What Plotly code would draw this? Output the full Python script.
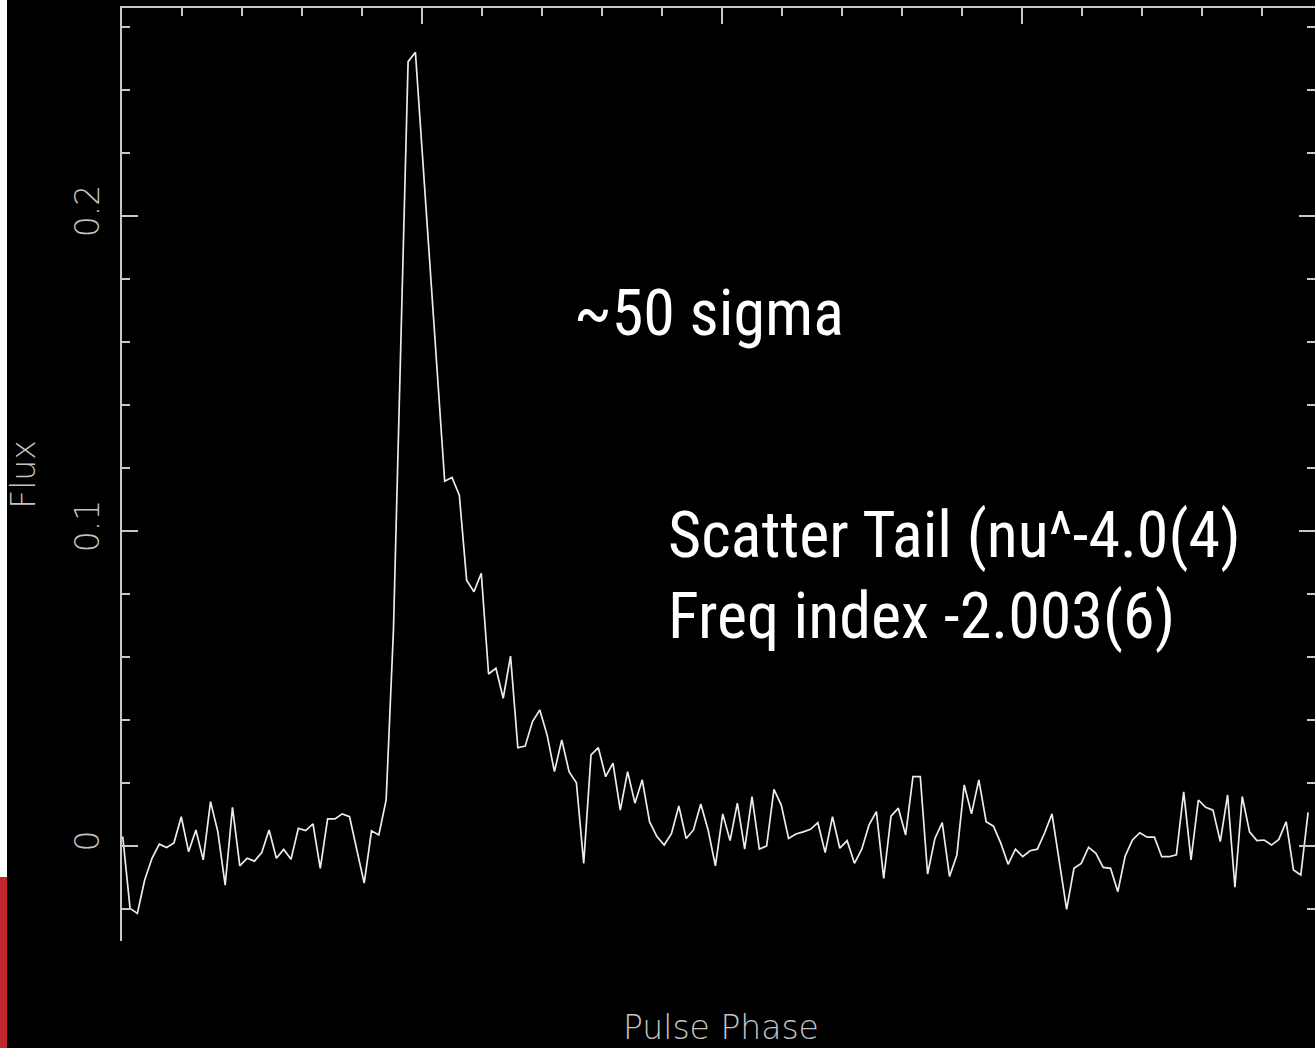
import numpy as np
import plotly.graph_objects as go

# Pulse profile: flux per phase bin (164 bins per rotation, 163 visible)
flux = [
    0.003, -0.0198, -0.0214, -0.0108, -0.0039, 0.0006, -0.0005, 0.001, 0.0093, -0.0018,
    0.0051, -0.0044, 0.0141, 0.0045, -0.0124, 0.0123, -0.0063, -0.0039, -0.0048, -0.0021,
    0.0051, -0.0039, -0.0011, -0.0042, 0.0056, 0.0049, 0.007, -0.0071, 0.0086, 0.0086,
    0.0102, 0.0093, -0.0013, -0.0118, 0.0048, 0.0035, 0.0146, 0.0686, 0.159, 0.249,
    0.252, 0.2186, 0.185, 0.151, 0.1158, 0.117, 0.1114, 0.0844, 0.0807, 0.0866,
    0.0546, 0.0564, 0.0469, 0.0603, 0.0312, 0.0317, 0.0395, 0.0432, 0.0352, 0.0236,
    0.0337, 0.0236, 0.0201, -0.0055, 0.0289, 0.0312, 0.022, 0.0263, 0.0114, 0.0236,
    0.0136, 0.021, 0.0077, 0.003, 0.0003, 0.004, 0.0127, 0.0024, 0.0051, 0.0133,
    0.0051, -0.0063, 0.0102, 0.0017, 0.0136, -0.001, 0.0157, -0.001, 0.0, 0.018,
    0.013, 0.0024, 0.0038, 0.0045, 0.0053, 0.0074, -0.0021, 0.0093, -0.0007, 0.0017,
    -0.0055, -0.001, 0.0067, 0.0109, -0.0103, 0.0095, 0.012, 0.0035, 0.022, 0.022,
    -0.0089, 0.0024, 0.0074, -0.0097, -0.0029, 0.0194, 0.0102, 0.021, 0.0077, 0.0063,
    0.0009, -0.0058, -0.001, -0.0034, -0.0015, -0.001, 0.0042, 0.0102, -0.005, -0.0201,
    -0.0071, -0.0055, -0.0004, -0.0023, -0.0068, -0.0071, -0.0145, -0.0032, 0.0019, 0.0042,
    0.0028, 0.0028, -0.0034, -0.0034, -0.0028, 0.0172, -0.0044, 0.0146, 0.0123, 0.0114,
    0.0014, 0.0162, -0.0131, 0.0157, 0.0045, 0.0017, 0.0019, 0.0003, 0.0021, 0.0077,
    -0.0076, -0.0092, 0.0107,
]
n_bins_per_turn = 164
phase = [(i + 0.1) / n_bins_per_turn for i in range(len(flux))]

ytick_vals = [0, 0.1, 0.2]
ytick_text = ["0", "0.1", "0.2"]

x_label = "Pulse Phase"
y_label = "Flux"
notes = ["~50 sigma", "Scatter Tail (nu^-4.0(4)", "Freq index -2.003(6)"]

W, H = 1315, 1048
L, R, T, B = 122, 0, 8, 107
pw, ph = W - L - R, H - T - B

def px(x):
    return (x - L) / pw

def py(y):
    return (H - B - y) / ph

axis_col = "#c8c8c8"
label_font = dict(family="DejaVu Sans", size=33, color="#c4c4c4", weight=200)
note_font = dict(family="Liberation Sans Narrow, Roboto Condensed, Liberation Sans, Arial", size=64, color="white")

fig = go.Figure()
fig.add_trace(go.Scatter(
    x=phase, y=flux, mode="lines",
    line=dict(color="#ececec", width=1.7),
    hoverinfo="skip", showlegend=False,
))

fig.update_layout(
    width=W, height=H,
    margin=dict(l=L, r=R, t=T, b=B, autoexpand=False),
    paper_bgcolor="black", plot_bgcolor="black",
    showlegend=False,
    xaxis=dict(
        range=[0, pw / 1200.0], side="top",
        showline=True, linecolor=axis_col, linewidth=2, mirror=False,
        ticks="inside", ticklen=16, tickwidth=2, tickcolor=axis_col,
        tick0=0, dtick=0.25, showticklabels=False,
        minor=dict(ticks="inside", ticklen=8, tickwidth=2, tickcolor=axis_col, dtick=0.05),
        showgrid=False, zeroline=False, automargin=False,
    ),
    yaxis=dict(
        range=[-(H - B - 846) / 3150.0, (846 - T) / 3150.0],
        showline=True, linecolor=axis_col, linewidth=2, mirror="ticks",
        ticks="inside", ticklen=16, tickwidth=2, tickcolor=axis_col,
        tickvals=ytick_vals, ticktext=ytick_text,
        tickangle=-90, tickfont=label_font, ticklabelstandoff=8,
        minor=dict(ticks="inside", ticklen=8, tickwidth=2, tickcolor=axis_col, dtick=0.02, tick0=0),
        showgrid=False, zeroline=False, automargin=False,
        title=dict(text=y_label, font=label_font, standoff=22),
    ),
)

annotations = [
    dict(text=x_label, x=px(721), y=py(1027), font=label_font, xanchor="center", yanchor="middle"),
    dict(text=notes[0], x=px(572), y=py(313), font=note_font, xanchor="left", yanchor="middle"),
    dict(text=notes[1], x=px(666), y=py(535), font=note_font, xanchor="left", yanchor="middle"),
    dict(text=notes[2], x=px(666), y=py(617), font=note_font, xanchor="left", yanchor="middle"),
]
for a in annotations:
    fig.add_annotation(xref="paper", yref="paper", showarrow=False, **a)

# slide background strip at the far left edge
fig.add_shape(type="rect", xref="paper", yref="paper", x0=px(0), x1=px(7), y0=py(877), y1=py(0),
              fillcolor="white", line_width=0, layer="above")
fig.add_shape(type="rect", xref="paper", yref="paper", x0=px(0), x1=px(7), y0=py(1048), y1=py(877),
              fillcolor="#c1272d", line_width=0, layer="above")

fig.write_html("out.html", config={"displayModeBar": False})
